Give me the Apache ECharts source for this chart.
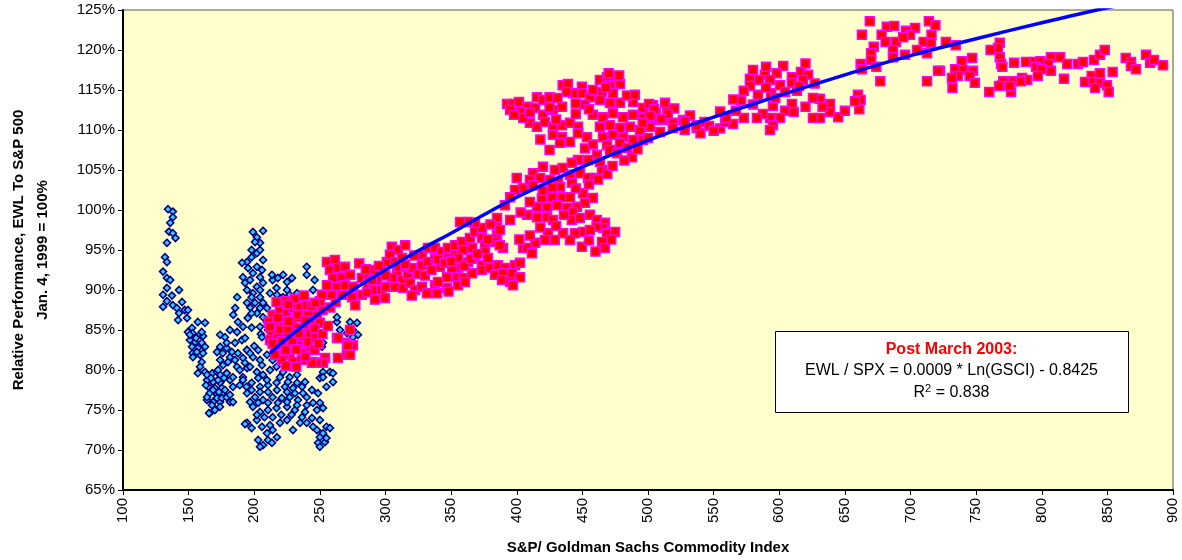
<!DOCTYPE html>
<html>
<head>
<meta charset="utf-8">
<script src="https://cdn.jsdelivr.net/npm/echarts@6/dist/echarts.min.js"></script>
<style>
  html, body { margin: 0; padding: 0; background: #fff; }
  #chart { width: 1182px; height: 560px; }
</style>
</head>
<body>
<div id="chart"></div>
<script>
// GSCI level vs EWL/SPX relative performance (%)
const preMarch2003 = [
  [134.3,100.1],[138,99.8],[138,99.1],[136,98.4],[135,97.3],[138,97.1],[133.5,95.9],[140,96.5],[132,94.1],[133.5,93.5],
  [130.5,92.3],[133.5,91.5],[136,91.25],[133.5,90.25],[142.7,90],[130.5,89.4],[137.3,89.3],[133.5,88.6],[130.5,87.9],[138,88.1],
  [145,88.5],[141,87.75],[147,87.5],[149.5,87.5],[142.7,87.1],[148.8,86.5],[142,86.25],
  [157,86],[162.5,85.9],[152.6,85.25],[149.5,84.75],[153,84.6],[158.7,84.4],[161,84.25],[151,83.75],[155,83.5],[160,83.4],
  [152.6,82.9],[157,82.75],[162.5,82.9],[153,82.1],[158.7,81.9],[160,81],[158.7,80.4],[157,79.6],
  [162.5,79.75],[168,79.6],[171.6,79.75],[174,79.4],[179,79.6],[164,78.75],[168.6,78.5],[174,78.4],[165,77.9],[170,77.75],
  [175.4,77.75],[166,77.1],[171.6,76.9],[176,77.1],[164,76.25],[168.6,76],[174,76],[181.5,76],[170,75],[166,74.6],[183.8,76],
  [164,79.4],[167,79],[172.4,78.75],[177,79],[163.2,78.1],[168.6,77.5],[173.1,77.25],[177.7,77.5],[164,76.6],[171.6,76.5],
  [175.4,76.5],[179,76.6],[167.8,75.6],[173.9,75.4],[181.5,76.9],[151,84.4],[155.6,84],[160,84.75],[156.3,82.25],[161,82.1],
  [153.3,81.6],[174,82.9],[179,82.75],[181.5,81.6],[176.2,80.6],[172.4,80],[186.9,80.4],[191.4,79.1],[179,79.6],[189,78.1],
  [183.8,77.9],[194.1,77.9],[181.5,78.75],
  [187,89.1],[185.5,87.75],[184,86.9],[187.6,86],[181.5,85],[174,84.4],[177.7,84.1],[186.9,84.75],[191.4,85.4],[179,83.4],
  [185.3,83.4],[190.6,83.75],[171.6,82.25],[176,82.1],[183,82.25],[187.6,82.1],[194.5,82.5],[174,81.25],[180,81],[185.3,81.25],
  [191.4,81.5],[183.8,79.1],[189,80],[194.5,80.25],
  [199,97.25],[206.7,97.4],[202,96.6],[204.4,95.9],[200.6,96],[194.5,93.5],[190.7,93.4],[198,94.1],[202,94.6],[206.7,93.75],
  [199,92.1],[204.4,91.6],[191.4,91.6],[196.8,91.25],[202,90.4],[206.7,90.9],[194.5,90],[199,89.6],[204.4,89.1],[206.7,88.4],
  [200.6,88.4],[209.7,87.75],[202,87.1],[206.7,86.6],[195,86.5],[198,85.3],[193,84],[200,83],[205,84.5],[210,85.5],[197,87.8],
  [198,95],[204.4,95],[195.3,92.75],[202,92.9],[205.9,92.5],[193,90.9],[204.4,90],[198,89.1],[194.5,88.4],[204.4,87.75],
  [198,87.1],[209.7,86],[204.4,85.4],[210.5,85],[205.9,84.1],[212,83.5],
  [214,91.25],[222,91.9],[217,90.25],[225,90],[228.8,91.5],[212,89.6],[229.5,88.75],[223.4,88.75],[240,92.9],[238.7,89.1],
  [246,91.25],[244.8,90],[236,87.25],[213.5,91.9],[218,91.5],[225,91],[217.3,89.4],[222,89.1],[227,89.4],[232.6,89.6],[236.4,89],
  [194.5,82.5],[199,81.6],[204.4,81.25],[209.7,81.9],[196.8,80.4],[202,79.75],[206.7,79.4],[212,80],[217,80.4],[222,79.75],
  [227,79.1],[232.6,79.4],[191.4,78.75],[198,78.4],[204.4,77.9],[210.5,78.1],[217,78.4],[223.4,77.9],[229.5,77.75],[236.4,77.9],
  [194.5,77.1],[200.6,76.6],[206.7,76.25],[214,76.6],[221,76.5],[227,76.6],[233.3,76.25],[240,76.6],[244.8,75.9],[199,75.4],
  [204.4,74.75],[210.5,75],[217,75.25],[225,75.4],[231,75],[238.7,74.75],[247.8,75],[252.4,75.25],[194.5,73.4],[202,73.75],
  [205.9,72.9],[209.7,72.1],[214,72.5],[219.6,73.4],[225,73.75],[203,71.25],[206.7,70.6],[210.5,71.25],[247.8,72.5],[250,71.6],
  [255,72.9],[248.6,70.9],[253.9,71],[240,73.4],[234.9,73.4],[193,73.25],[165.5,74.6],
  [196.8,82.1],[203,82.5],[213.5,82.9],[192.9,80.9],[205.9,80.6],[214,81.25],[219.6,79.1],[209.7,78.75],[203,79],[225.7,78.5],
  [232.6,78.4],[238.7,78.5],[244,77.5],[248.6,77.1],[237.1,77.1],[231,77.1],[225,77.25],[217.3,77.5],[210.5,77.25],[204.4,77.25],
  [198,77.5],[196.8,76],[203,75.9],[210.5,75.9],[218,75.9],[225,76],[232.6,75.6],[240,75.6],[250,75.9],[202,74.4],
  [207.8,74.1],[214,74.1],[220.6,74.4],[228.4,74.4],[236.4,74.1],[244,74],[250,73.75],[198,72.75],[212,73.1],[217.3,71.6],
  [213.5,70.9],[204.4,70.4],[229.5,72.5],[244.8,72.9],[252.4,72.1],[255,71.5],[250,70.4],[257.7,72.75],
  [252.4,79.75],[257.7,79.75],[260,78.5],[255,77.9],[250,79],[251.6,82.9],[252.4,83.4],[263,86],[265.3,85],[273,85.4],
  [278.3,85.9],[279,84.4],[275.2,85],[240,91.9],[263,86.6],[270.7,84.6],[275.2,84.1],[273,86],[252.4,79.1],[260,79.6],[263,84.1]
];

const postMarch2003 = [
  // 210-280 cluster
  [214,86.9],[219.6,87.5],[225,87.25],[229.5,87.75],[235,87.9],[240,88.1],[215.8,85.9],[222,86],[228.8,86.25],[235,86.6],
  [241,86.9],[247.8,86.9],[213.5,84.75],[219.6,85],[225.7,85],[232.6,85.25],[238.7,85.4],[244.8,85.6],[250,85.9],[212,83.75],
  [218,84],[225,84],[231,84.1],[237,84.1],[242.5,84.6],[215.8,82.9],[222,82.9],[228.8,83.1],[235,83.1],[240,82.9],
  [219.6,82.1],[227,81.9],[236.4,82.1],[221,81.25],[229.5,81],[236.4,81.25],[244,81],[254,81.5],[263,84],[263.8,81.5],
  [270.7,83.4],[275.2,83.1],[273,85],[270.7,82.1],[263.8,84],[271.4,83.1],[270.7,81.9],[273,81.9],[252.4,80.9],[247.8,80.9],
  [244,80.9],
  [217,88.5],[224,88.6],[231,88.9],[238,89.3],[244,88],[211,86],[218,86.5],[226,86.1],[233,86.9],[239,86.2],
  [246,85.2],[252,87.5],[214,83.3],[221,83.6],[229,83.6],[234,84.6],[241,83.5],[247,84],[216,81.9],[224,82.5],
  [232,82.6],[239,81.7],[224,80.5],[232,80.4],[246,82.5],[249,83.3],[252,84.5],[256,85.5],[258,87.8],[262,88.5],
  [266,90.2],[250,88.6],[256,89.5],[212,85.4],[226,88.2],
  // 250-410 band
  [255.4,93.5],[261.5,93.75],[257.7,92.5],[263.8,92.75],[269.1,92.9],[260,91.5],[267,91.6],[273,91.9],[255.4,90.6],[263,90.4],
  [269,90.6],[275.2,90.4],[251.6,89.4],[259,89.4],[267,89.4],[274.5,89.1],[282,89.4],[246.3,88.4],[277,88.1],[282,91.5],
  [286.7,90.6],[286.7,91.9],[292,92.5],[293.7,91.25],[290.4,90],[297,90],[299.6,89],[298,92.75],[301,93.5],[304.8,95.4],
  [309.5,95],[303.4,94.4],[307.2,93.5],[312.6,94],[308.8,92.25],[305,91.5],[312.6,91.25],[307.2,90.4],[313.3,90.25],[317,91.9],
  [320,92.75],[318.7,90.9],[322.5,90],[327.8,94.4],[327.8,93.1],[332.4,95.25],[332.4,93.5],[337.7,95.25],[337.7,94],[343,94.75],
  [341.5,92.9],[347.6,95.25],[347.6,94],[353,95.6],[353,94.4],[358.3,96],[359,95],[364.4,96.5],[366,95.25],[368.2,97.25],
  [373.5,96.5],[373.5,97.75],[368.2,98.4],[363,98.5],[356.8,98.5],[375.8,95.6],[385,99],[385,97.9],[385,96.9],[383.4,96],
  [389.5,95.25],[375.8,94.75],[368.2,94],[363,93.5],[355.3,94],[355.3,92.75],[350.7,92.75],[346.9,91.6],[354.5,91.6],[359,91.5],
  [366,92.1],[373.5,93.1],[373.5,92.5],[327.8,90.4],[331.6,89.6],[337.7,90.6],[339.2,89.6],[346.9,90.25],[355.3,90.6],[360.6,91],
  [379.6,92.75],[385.7,93.1],[391,92.75],[398.7,93.1],[402.5,93.4],[383.4,91.9],[389.5,92.1],[396.4,92.1],[402.5,91.6],[388.8,91.25],
  [394.9,91],[397.1,90.6],[404.8,95.25],
  [280,93.3],[285,92.6],[290,91.2],[295,93],[300,91.8],[310,92.9],[315,93.2],[325,92],[330,91.8],[335,92.5],
  [340,93.8],[345,93.4],[350,93.6],[315,95.6],[322,94.3],[360,93],[365,93.9],[370,94.5],[378,96.3],[380,98.2],
  [378,94],[340,91],[348,89.8],[320,89.3],[300,90.4],[286,89.7],[292,88.8],
  // 390-530 cloud
  [392.6,113.25],[397,113.25],[401.7,113.5],[407.8,112.9],[414,112.75],[395,112.5],[402.5,112.25],[415.4,114.1],[420,113.75],[425,114.1],
  [431,114],[435,115.6],[439,115.75],[449.7,115.4],[449.7,114.6],[442.9,114.6],[438,114.75],[434.5,112.9],[427.6,112.5],[420,111.9],
  [410,110.9],[415.4,110.4],[421.5,111],[427.6,110.4],[434.5,110.6],[440.6,110.9],[446.7,110.4],[427.6,109.4],[434.5,109.1],[440.6,108.5],
  [433,108.4],[446.7,109.6],[453.5,109.1],
  [463.4,116.25],[468.8,116.6],[474.9,116.75],[478.7,115.75],[471,115.6],[465,114.75],[473.3,114.6],[463.4,113.75],[455.8,114.1],[471,113.4],
  [478.7,113.4],[488.6,113.5],[496.2,112.75],[503.8,113.1],[514.5,112.5],[519,110.9],[458,111.9],[465.7,111.6],[473.3,112.1],[481,111.6],
  [488.6,111.9],[496.2,111.5],[503.8,111.25],[511.4,111.25],[463.4,110.4],[471,110.6],[478.7,110.25],[486.3,110.4],[493.9,110],[501.5,110.4],
  [509.2,109.75],[465.7,109.1],[473.3,109.4],[481,109.1],[488.6,108.75],[496.2,108.75],[478.7,108.4],[468.8,108.1],[471,107.5],[487.8,106.6],
  [476.4,107.1],[484,107.75],[526.7,111.25],[528,110],[537.2,110.25],
  [398,111.9],[405,111.5],[410,112.2],[425,112.8],[430,111.3],[445,112],[452,113.2],[458,115],[468,115.3],[484,114.3],
  [490,114.4],[478,116.8],[470,117.1],[455,112.6],[445,113.3],[418,108.8],[425,107.5],[452,107.7],[458,108.2],[482,106.2],
  [492,107.6],[500,109],[506,112.1],[513,113.4],[520,112.7],[532,111.8],[543,111],[555,110.2],[540,109.6],
  [461,106.9],[454.3,106.25],[446.7,106.25],[442,105.9],[435,105.25],[429,105],[420,105.4],[412.4,104.6],[404.8,102.75],[410,103.75],
  [417.7,104],[425.3,103.75],[431.4,103.5],[440.6,104.4],[448.2,104.6],[454.3,104],[459.6,104],[412.4,103.1],[433,102.9],[442,103.4],
  [465,105],[463.4,106],
  [419.2,101.5],[426.9,101.6],[434.5,101.6],[440.6,101.6],[450.5,102.1],[458,101.5],[415.4,100.4],[423,100.4],[430.7,100.6],[438.3,100.25],
  [445.9,100.4],[452,100.9],[407.8,99.4],[415.4,99.1],[423,99.1],[427.6,98.75],[442.9,99.75],[455.8,99.4],[442,98.75],[461,98.75],
  [467.2,98.4],[465.7,97.75],[461,97.9],[468.8,97.1],[465,96],[467.2,95.25],[474.9,97.25],[450.5,97.25],[444.4,97.1],[435.3,97.1],
  [423.8,97.1],[429,96.25],[421.5,96.25],[414,95.9],[407.8,95.25],[411.6,94.6],[440.6,96.25],[449.7,95.4],[455.8,97.5],
  [391,100.6],[395,98.75],[387.2,97.5],[398.7,102.5],[387,95.6],
  [420,102.4],[427,102.8],[445,102.7],[455,103.2],[462,103.8],[469,104.5],[473,105.5],[448,99],[436,99.4],[430,98],
  [418,97.8],[410,96.8],[402,96.3],[403,99.7],[410,101],[455,96.2],[460,94.8],[472,96.3],[395,101.6],[400,104],
  // 495-680
  [500.8,113.25],[504.6,112.6],[515,112],[501.5,111.75],[510,111.4],[519,110.25],[528,111.1],[537,110.6],[546.5,110.5],[550,109.9],
  [558.7,111],[564.8,110.75],[496,110.9],
  [603,118],[598,117.1],[589,116.9],[577.7,116.4],[584.6,116.25],[593,116.25],[609.7,116.6],[616.6,117.25],[622,116.9],[618,116.25],
  [609.7,115.9],[600.6,115.6],[577.7,115.5],[573,114.9],[583.8,114.4],[593.7,114.6],[604.4,114.75],[613.5,114.9],[631,113.9],[625.7,114],
  [638.7,113.25],[638.7,112.25],[631,111.5],[625.7,111.5],[620,112.9],[609.7,113.25],[604.4,112.4],[611,112.25],[600.6,111.5],[593,111.5],
  [595.2,113],[587.6,112],[583,111.5],[573,111.5],[567,112.4],[559.4,111.5],[595.2,110.6],[593,110],[660,114.4],[662,113.75],
  [661,112.6],[657.7,113.6],
  [580,113.2],[590,115.3],[597,114],[615,115.5],[627,115.8],[633,112.9],[645,111.6],[650,112.4],[580,117.5],[571,113.7],
  [555,112.3],[565,113.8],[590,117.9],[620,118.3],
  // 660-895
  [669,123.6],[663,121.9],[682,122.9],[687.6,123],[678,121.9],[681,121],[689,121],[696.6,122.4],[703.5,122.75],[699.6,121.9],
  [694.4,121.6],[714,123.6],[719,123.1],[716,121.9],[710,121],[715.6,120.9],[705,120],[712.6,119.6],[695.8,119.4],[686.7,120],
  [686.7,119.1],[672,120.4],[670,119.6],[670,118.75],[662,118.25],[663,117.6],[674,117.9],[677,116.1],[712.6,116.1],[727,121],
  [734.5,120.6],
  [768,120.9],[766.7,120.25],[761,120],[768,119.1],[769,118.25],[770,117.9],[747,119],[739,118.6],[734,117.6],[740,117.5],
  [747.6,117.4],[745,116.75],[736,116.75],[722.5,117.4],[731.6,116.5],[749,115.9],[732,115.25],[760,114.75],[770,115.6],[778,116.1],
  [776.6,114.75],[770.7,116.1],[779,118.4],[788,118.5],[794.5,118.5],[799,118.6],[807,119.1],[805,118.25],[807,117.4],[814,119.1],
  [819.4,118.25],[785,116.5],[789,116.25],[784,116.1],[795.7,117.9],[799.7,117.6],[797,116.75],[817,116.4],[827.6,118.25],[831.4,118.5],
  [839.8,118.75],[844.4,119.4],[848,120],[854,117.25],[838,116.75],[844.4,117.1],[833,116],[839,116],[844.4,115.9],[849.7,115.6],
  [840.6,115.25],[851,114.75],[864,119],[868,118.5],[868,118],[871.8,117.6],[879.5,119.4],[882.6,118.4],[885.5,118.75],[892.4,118.1],
  [721,117.4],[767.5,115.5],[775.6,115.5]
];

// fitted curve
const trendPoints = [
  [212,82.1],[230,84.6],[250,87.1],[275,90.0],[300,92.5],[325,94.9],[350,97.1],[375,99.4],[400,101.6],
  [450,105.4],[500,108.7],[550,111.6],[600,114.3],[650,116.9],[700,119.3],[750,121.4],[800,123.4],[842,125],[860,125.6]
];

const xRange = { min: 100, max: 900, interval: 50 };
const yRange = { min: 65, max: 125, interval: 5 };

const boxTitle = "Post March 2003:";
const boxFormula = "EWL / SPX = 0.0009 * Ln(GSCI) - 0.8425";
const boxR2 = "0.838";

const chart = echarts.init(document.getElementById("chart"), null, { renderer: "canvas" });
const font = "Liberation Sans, Arial, sans-serif";

const option = {
  animation: false,
  textStyle: { fontFamily: font },
  grid: {
    left: 123, right: 9, top: 10, bottom: 70,
    outerBoundsMode: "none",
    containLabel: false,
    show: true,
    backgroundColor: "#ffffcc",
    borderColor: "#555",
    borderWidth: 1
  },
  xAxis: {
    type: "value",
    min: xRange.min, max: xRange.max, interval: xRange.interval,
    name: "S&P/ Goldman Sachs Commodity Index",
    nameLocation: "middle",
    nameGap: 50,
    nameTextStyle: { fontFamily: font, fontSize: 15, fontWeight: "bold", color: "#000" },
    axisLine: { lineStyle: { color: "#000", width: 2 } },
    axisTick: { show: true, length: 5, lineStyle: { color: "#000" } },
    axisLabel: { rotate: 90, fontFamily: font, fontSize: 15, color: "#000", margin: 8 },
    splitLine: { show: false }
  },
  yAxis: {
    type: "value",
    min: yRange.min, max: yRange.max, interval: yRange.interval,
    name: "Relative Performance, EWL To S&P 500\nJan. 4, 1999 = 100%",
    nameLocation: "middle",
    nameGap: 68,
    nameTextStyle: { fontFamily: font, fontSize: 15, fontWeight: "bold", color: "#000", lineHeight: 24 },
    axisLine: { show: true, lineStyle: { color: "#000", width: 2 } },
    axisTick: { show: true, length: 5, lineStyle: { color: "#000" } },
    axisLabel: { fontFamily: font, fontSize: 15, color: "#000", margin: 8, formatter: v => v + "%" },
    splitLine: { show: false }
  },
  series: [
    {
      name: "Pre March 2003",
      type: "scatter",
      data: preMarch2003,
      symbol: "diamond",
      symbolSize: 7,
      itemStyle: { color: "#33ccff", borderColor: "#000080", borderWidth: 1.6, opacity: 1 }
    },
    {
      name: "Post March 2003",
      type: "scatter",
      data: postMarch2003,
      symbol: "rect",
      symbolSize: 9,
      itemStyle: { color: "#ff0000", borderColor: "#ff00ff", borderWidth: 1.5, opacity: 1 }
    },
    {
      name: "Trend",
      type: "line",
      data: trendPoints,
      smooth: true,
      symbol: "none",
      clip: true,
      lineStyle: { color: "#0000ff", width: 3.5 },
      z: 5
    }
  ],
  graphic: [
    {
      type: "group",
      left: 775, top: 331,
      children: [
        { type: "rect", shape: { x: 0, y: 0, width: 353, height: 81 }, style: { fill: "#fff", stroke: "#000", lineWidth: 1 } },
        { type: "text", x: 176, y: 10, style: { text: boxTitle, fill: "#ff0000", font: "bold 16px " + font, textAlign: "center" } },
        { type: "text", x: 176, y: 31, style: { text: boxFormula, fill: "#000", font: "16px " + font, textAlign: "center" } },
        {
          type: "text", x: 176, y: 52,
          style: {
            text: "R{sup|2} = " + boxR2,
            fill: "#000", font: "16px " + font, textAlign: "center",
            rich: { sup: { fontSize: 11, fontFamily: font, verticalAlign: "top", padding: [0, 0, 8, 0] } }
          }
        }
      ]
    }
  ]
};

chart.setOption(option);
</script>
</body>
</html>
